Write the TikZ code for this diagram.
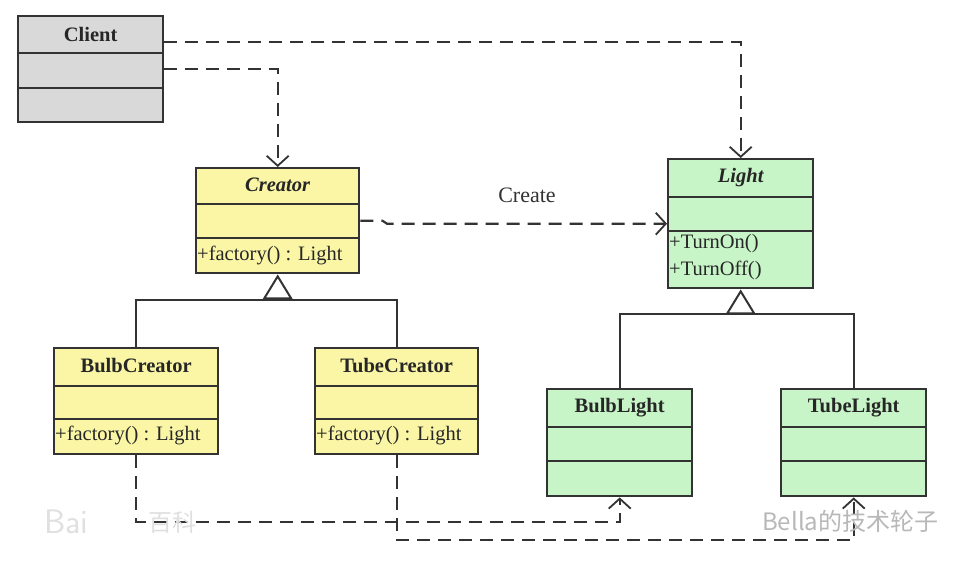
\documentclass[tikz,border=0pt]{standalone}
\usepackage{fontspec}
\setmainfont{Liberation Serif}
\newfontfamily\cjk{Noto Sans CJK SC}
\usetikzlibrary{arrows.meta,calc}
\definecolor{grayc}{HTML}{D9D9D9}
\definecolor{yelc}{HTML}{FAF6A6}
\definecolor{grnc}{HTML}{C8F5C8}
\definecolor{bordc}{HTML}{333333}
\begin{document}
\begin{tikzpicture}[x=1pt,y=-1pt,
  box/.style={draw=bordc, line width=2.4pt, anchor=north west, inner sep=0pt},
  div/.style={draw=bordc, line width=2.2pt},
  ttl/.style={font=\fontsize{20.5}{22}\selectfont\bfseries, text=black!85, inner sep=0pt},
  ittl/.style={font=\fontsize{20.5}{22}\selectfont\bfseries\itshape, text=black!85, inner sep=0pt},
  op/.style={font=\fontsize{20.5}{22}\selectfont, text=black!85, anchor=west, inner sep=0pt},
  dep/.style={draw=bordc, line width=2.2pt, dash pattern=on 13pt off 8pt, -{Straight Barb[length=10pt,width=22pt,line width=1.8pt]}},
  inh/.style={draw=bordc, line width=2.2pt, -{Triangle[open,length=25pt,width=30pt,fill=white,line width=2pt]}},
  lnk/.style={draw=bordc, line width=2.2pt},
  wm/.style={font=\cjk\fontsize{24}{26}\selectfont, text=black!28, inner sep=0pt}]
\useasboundingbox (0,0) rectangle (966,566);
\fill[white] (0,0) rectangle (966,566);

% Client
\node[box, fill=grayc, minimum width=145pt, minimum height=106pt] (client) at (17,15) {};
\draw[div] ($(client.north west)+(0,38)$) -- ($(client.north east)+(0,38)$);
\draw[div] ($(client.north west)+(0,73)$) -- ($(client.north east)+(0,73)$);
\node[ttl] (clientT) at ($(client.north)+(0,19)$) {Client};

% Creator
\node[box, fill=yelc, minimum width=163pt, minimum height=105pt] (creator) at (195,167) {};
\draw[div] ($(creator.north west)+(0,37)$) -- ($(creator.north east)+(0,37)$);
\draw[div] ($(creator.north west)+(0,71)$) -- ($(creator.north east)+(0,71)$);
\node[ittl] (creatorT) at ($(creator.north)+(0,18)$) {Creator};
\node[op] (creatorO) at ($(creator.north west)+(2,88)$) {+factory() : Light};

% Light
\node[box, fill=grnc, minimum width=145pt, minimum height=129pt] (light) at (667,158) {};
\draw[div] ($(light.north west)+(0,39)$) -- ($(light.north east)+(0,39)$);
\draw[div] ($(light.north west)+(0,73)$) -- ($(light.north east)+(0,73)$);
\node[ittl] (lightT) at ($(light.north)+(0,20)$) {Light};
\node[op] (lightO1) at ($(light.north west)+(2,86)$) {+TurnOn()};
\node[op] (lightO2) at ($(light.north west)+(2,112)$) {+TurnOff()};

% BulbCreator
\node[box, fill=yelc, minimum width=164pt, minimum height=106pt] (bulbc) at (53,347) {};
\draw[div] ($(bulbc.north west)+(0,39)$) -- ($(bulbc.north east)+(0,39)$);
\draw[div] ($(bulbc.north west)+(0,72)$) -- ($(bulbc.north east)+(0,72)$);
\node[ttl] (bulbcT) at ($(bulbc.north)+(0,19)$) {BulbCreator};
\node[op] (bulbcO) at ($(bulbc.north west)+(2,88)$) {+factory() : Light};

% TubeCreator
\node[box, fill=yelc, minimum width=163pt, minimum height=106pt] (tubec) at (314,347) {};
\draw[div] ($(tubec.north west)+(0,39)$) -- ($(tubec.north east)+(0,39)$);
\draw[div] ($(tubec.north west)+(0,72)$) -- ($(tubec.north east)+(0,72)$);
\node[ttl] (tubecT) at ($(tubec.north)+(0,19)$) {TubeCreator};
\node[op] (tubecO) at ($(tubec.north west)+(2,88)$) {+factory() : Light};

% BulbLight
\node[box, fill=grnc, minimum width=145pt, minimum height=107pt] (bulbl) at (546,388) {};
\draw[div] ($(bulbl.north west)+(0,39)$) -- ($(bulbl.north east)+(0,39)$);
\draw[div] ($(bulbl.north west)+(0,73)$) -- ($(bulbl.north east)+(0,73)$);
\node[ttl] (bulblT) at ($(bulbl.north)+(0,20)$) {BulbLight};

% TubeLight
\node[box, fill=grnc, minimum width=145pt, minimum height=107pt] (tubel) at (780,388) {};
\draw[div] ($(tubel.north west)+(0,39)$) -- ($(tubel.north east)+(0,39)$);
\draw[div] ($(tubel.north west)+(0,73)$) -- ($(tubel.north east)+(0,73)$);
\node[ttl] (tubelT) at ($(tubel.north)+(0,20)$) {TubeLight};

% Inheritance: creators
\coordinate (cj) at (creator.south |- 0,300);
\draw[lnk] (bulbc.north) |- (cj) -| (tubec.north);
\draw[inh] (cj) -- (creator.south);

% Inheritance: lights
\coordinate (lj) at (light.south |- 0,314);
\draw[lnk] (bulbl.north) |- (lj) -| (tubel.north);
\draw[inh] (lj) -- (light.south);

% Dependencies
\coordinate (c1) at ($(client.north east)+(0,27)$);
\coordinate (c2) at ($(client.north east)+(0,54)$);
\draw[dep] (c1) -| (light.north);
\draw[dep] (c2) -| (creator.north);
\draw[dep] (creator.east) -- ++(22,0) -- ($(light.west)+(-280,0)$) -- (light.west);
\node[font=\fontsize{22}{24}\selectfont, text=black!80] (create) at (527,195) {Create};

\coordinate (b1) at (bulbc.south |- 0,522);
\draw[dep] (bulbc.south) -- (b1) -| (bulbl.south);
\coordinate (t1) at (tubec.south |- 0,540);
\draw[dep] (tubec.south) -- (t1) -| (tubel.south);

% Watermarks
\node[wm, anchor=west] (wm1) at (762,521) {Bella的技术轮子};
\node[wm, anchor=west, text=black!12, font=\sffamily\fontsize{34}{36}\selectfont] (wm2) at (44,522) {Bai};
\node[wm, anchor=west, text=black!12] (wm3) at (148,522) {百科};
\end{tikzpicture}
\end{document}
